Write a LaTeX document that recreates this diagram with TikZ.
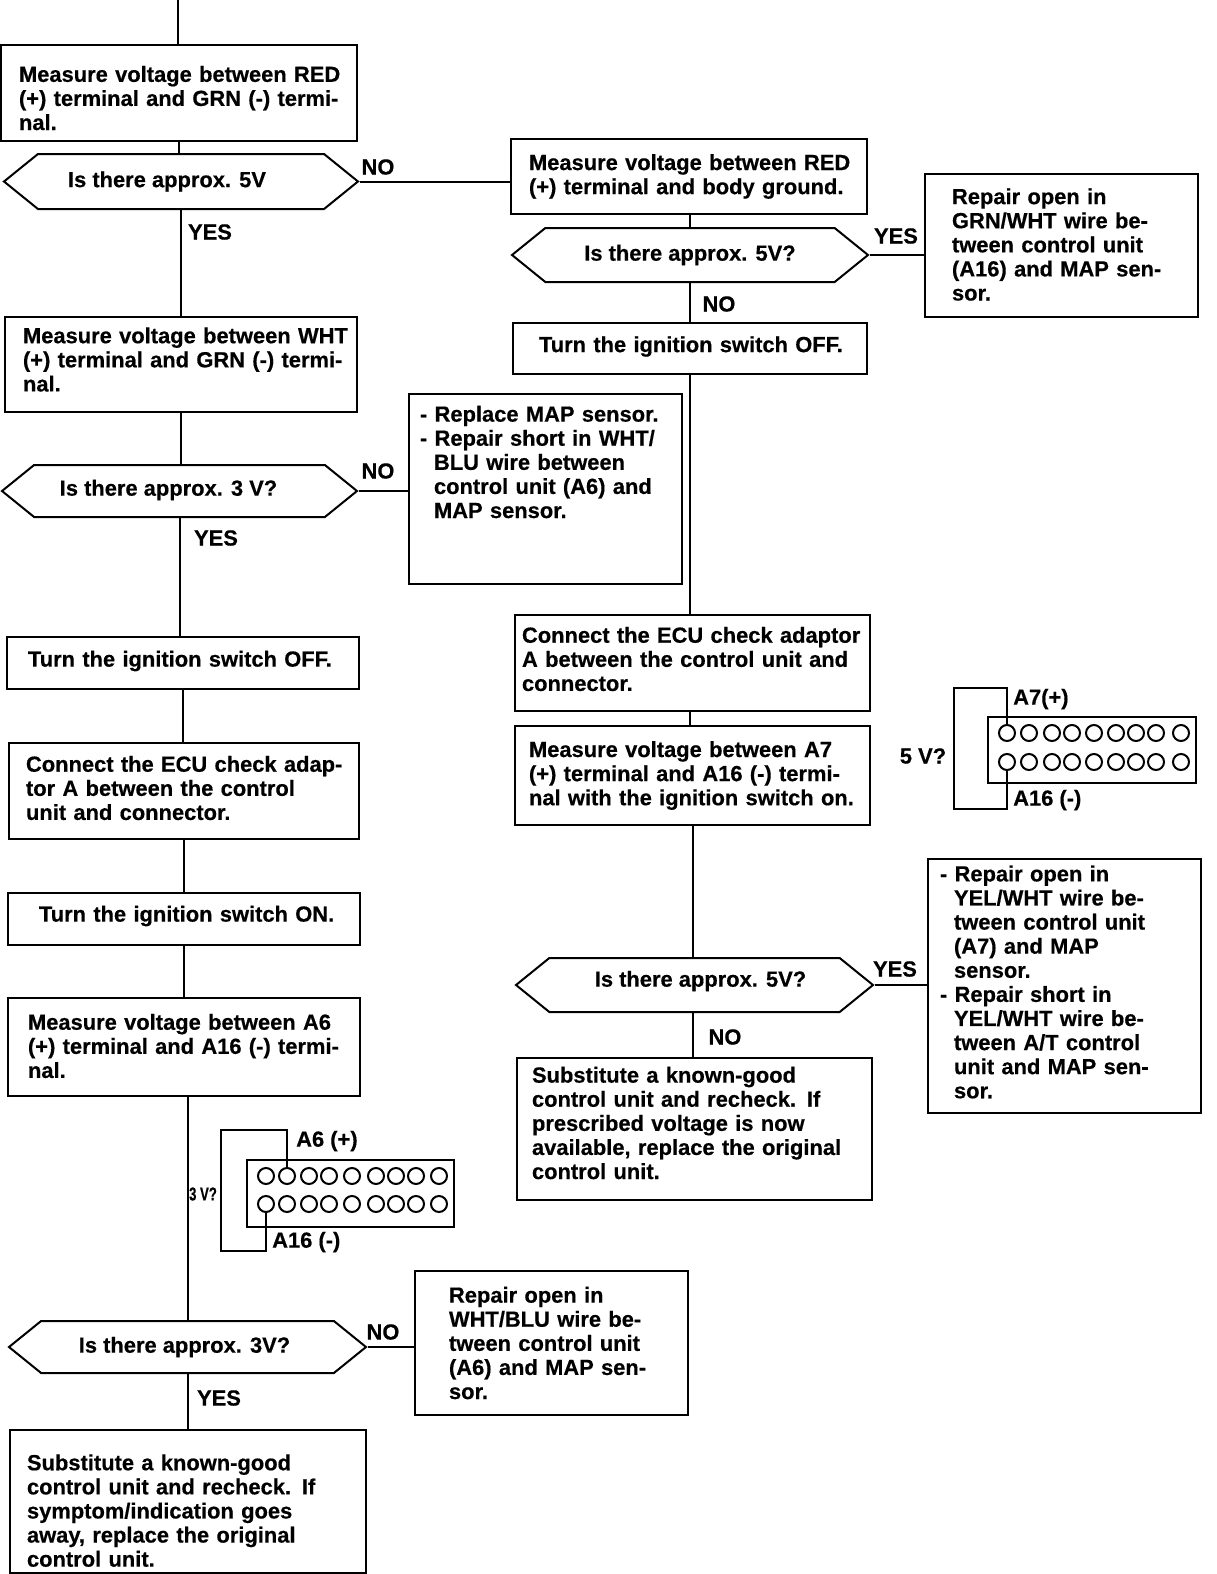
\documentclass[tikz,border=0pt]{standalone}
\usepackage{graphicx}
\usepackage{fontspec}
\setmainfont{Liberation Sans}[BoldFeatures={FakeBold=0.5}]
\usetikzlibrary{shapes.symbols}
\newcommand{\flowfont}{\fontsize{21.9}{24.1}\bfseries\selectfont}
\newcommand{\hang}{\hspace*{14pt}}
\tikzset{
    every node/.style={font=\flowfont},
    flowbox/.style n args={3}{draw, line width=2pt, anchor=north west, align=left,
        minimum width=#1pt, minimum height=#2pt, inner sep=0pt, text width=#1pt,
        execute at begin node={\leftskip=#3pt\relax}},
    textup/.style={execute at end node={\par\vskip#1pt\hrule height0pt\relax}},
    textdown/.style={execute at begin node={\vskip#1pt}},
    query/.style n args={2}{draw, line width=2pt, shape=signal, signal to=west and east,
        signal pointer angle=78, minimum width=#1pt, minimum height=#2pt, inner sep=0pt},
    flowline/.style={line width=2pt},
    wire/.style={line width=2pt},
    pinhole/.style={draw, circle, line width=2pt, minimum size=16pt, inner sep=0pt},
    tag/.style={inner sep=0pt}
}
\begin{document}
\begin{tikzpicture}[x=1pt, y=-1pt]
    \useasboundingbox (1,1) rectangle (1217,1575);

    \coordinate (start) at (179,1);

    % left column
    \node[flowbox={356}{96}{18}, textdown=2] (redgrn) at (1,45) {Measure voltage between RED\\(+) terminal and GRN (-) termi-\\nal.};
    \node[query={354}{55}] (ask5a) at (182,182.5) {Is there approx. 5V\hspace*{28pt}};
    \node[flowbox={352}{95}{18}, textup=10] (whtgrn) at (5,317) {Measure voltage between WHT\\(+) terminal and GRN (-) termi-\\nal.};
    \node[query={355}{52}] (ask3a) at (180.5,492) {\raisebox{1pt}[\height][\depth]{Is there approx. 3 V?}\hspace*{22pt}};
    \node[flowbox={352}{52}{21}, textup=4] (offa) at (7,637) {Turn the ignition switch OFF.};
    \node[flowbox={350}{96}{17}, textup=6] (adaptera) at (9,743) {Connect the ECU check adap-\\tor A between the control\\unit and connector.};
    \node[flowbox={352}{52}{31}, textup=6] (ona) at (8,893) {Turn the ignition switch ON.};
    \node[flowbox={352}{98}{20}, textup=2] (a6a16) at (8,998) {Measure voltage between A6\\(+) terminal and A16 (-) termi-\\nal.};
    \node[query={357}{52}] (ask3b) at (188.5,1348) {Is there approx. 3V?\hspace*{6pt}};
    \node[flowbox={356}{143}{17}, textdown=10] (subsa) at (10,1430) {Substitute a known-good\\control unit and recheck. If\\symptom/indication goes\\away, replace the original\\control unit.};

    % middle and right
    \node[flowbox={273}{190}{11}, textup=54] (replmap) at (409,394) {- Replace MAP sensor.\\- Repair short in WHT/\\\hang BLU wire between\\\hang control unit (A6) and\\\hang MAP sensor.};
    \node[flowbox={273}{144}{34}] (openwht) at (415,1271) {Repair open in\\WHT/BLU wire be-\\tween control unit\\(A6) and MAP sen-\\sor.};
    \node[flowbox={356}{75}{18}] (redbody) at (511,139) {Measure voltage between RED\\(+) terminal and body ground.};
    \node[query={356}{54}] (ask5b) at (691,256) {Is there approx. 5V?};
    \node[flowbox={273}{143}{27}, textup=2] (opengrn) at (925,174) {Repair open in\\GRN/WHT wire be-\\tween control unit\\(A16) and MAP sen-\\sor.};
    \node[flowbox={354}{51}{26}, textup=4] (offb) at (513,323) {Turn the ignition switch OFF.};
    \node[flowbox={355}{96}{7}, textup=8] (adapterb) at (515,615) {Connect the ECU check adaptor\\A between the control unit and\\connector.};
    \node[flowbox={355}{99}{14}] (a7a16) at (515,726) {Measure voltage between A7\\(+) terminal and A16 (-) termi-\\nal with the ignition switch on.};
    \node[query={357}{54}] (ask5c) at (695.5,986) {\hspace*{12pt}\raisebox{4pt}[\height][\depth]{Is there approx. 5V?}};
    \node[flowbox={273}{254}{12}, textup=8] (openyel) at (928,859) {- Repair open in\\\hang YEL/WHT wire be-\\\hang tween control unit\\\hang (A7) and MAP\\\hang sensor.\\- Repair short in\\\hang YEL/WHT wire be-\\\hang tween A/T control\\\hang unit and MAP sen-\\\hang sor.};
    \node[flowbox={355}{142}{15}, textup=12] (subsb) at (517,1058) {Substitute a known-good\\control unit and recheck. If\\prescribed voltage is now\\available, replace the original\\control unit.};

    % yes and no
    \node[tag] (no1) at (379,168) {NO};
    \node[tag] (yes1) at (211,233) {YES};
    \node[tag] (yes2) at (897,237) {YES};
    \node[tag] (no2) at (720,305) {NO};
    \node[tag] (no3) at (379,472) {NO};
    \node[tag] (yes3) at (217,539) {YES};
    \node[tag] (yes4) at (896,970) {YES};
    \node[tag] (no4) at (726,1038) {NO};
    \node[tag] (no5) at (384,1333) {NO};
    \node[tag] (yes5) at (220,1399) {YES};

    % connectors
    \draw[flowline] (start) -- (start |- redgrn.north);
    \draw[flowline] (redgrn.south) -- (redgrn.south |- ask5a.north);
    \draw[flowline] (whtgrn.north |- ask5a.south) -- (whtgrn.north);
    \draw[flowline] (whtgrn.south) -- (whtgrn.south |- ask3a.north);
    \draw[flowline] (ask3a.south) -- (ask3a.south |- offa.north);
    \draw[flowline] (offa.south) -- (offa.south |- adaptera.north);
    \draw[flowline] (adaptera.south) -- (adaptera.south |- ona.north);
    \draw[flowline] (ona.south) -- (ona.south |- a6a16.north);
    \draw[flowline] (ask3b.north |- a6a16.south) -- (ask3b.north);
    \draw[flowline] (ask3b.south) -- (ask3b.south |- subsa.north);
    \draw[flowline] (ask5a.east) -- (redbody.west |- ask5a.east);
    \draw[flowline] (ask3a.east) -- (replmap.west |- ask3a.east);
    \draw[flowline] (ask3b.east) -- (openwht.west |- ask3b.east);
    \draw[flowline] (ask5b.north |- redbody.south) -- (ask5b.north);
    \draw[flowline] (ask5b.south) -- (ask5b.south |- offb.north);
    \draw[flowline] (ask5b.east) -- (opengrn.west |- ask5b.east);
    \draw[flowline] (offb.south) -- (offb.south |- adapterb.north);
    \draw[flowline] (offb.south |- adapterb.south) -- (offb.south |- a7a16.north);
    \draw[flowline] (a7a16.south) -- (a7a16.south |- ask5c.north);
    \draw[flowline] (a7a16.south |- ask5c.south) -- (a7a16.south |- subsb.north);
    \draw[flowline] (ask5c.east) -- (openyel.west |- ask5c.east);

    % connector at right
    \node[draw, line width=2pt, minimum width=208pt, minimum height=66pt, anchor=north west] (plugr) at (988,717) {};
    \foreach \xpin [count=\i] in {1008,1030,1053,1073,1095,1117,1137,1157,1182} {
        \node[pinhole] (ra\i) at (\xpin,734) {};
        \node[pinhole] (rb\i) at (\xpin,763) {};
    }
    \coordinate (rtop) at (955,689);
    \coordinate (rbot) at (955,810);
    \draw[wire] (ra1.north) |- (rtop) -- (rbot) -| (rb1.south);
    \node[tag, anchor=west] (a7tag) at (1014,700) {A7(+)};
    \node[tag, anchor=west] (a16tagr) at (1014,801) {A16 (-)};
    \node[tag] (volt5) at (924,757) {5 V?};

    % connector at left
    \node[draw, line width=2pt, minimum width=207pt, minimum height=67pt, anchor=north west] (plugl) at (247,1160) {};
    \foreach \xpin [count=\i] in {267,288,310,330,353,377,397,417,440} {
        \node[pinhole] (la\i) at (\xpin,1177) {};
        \node[pinhole] (lb\i) at (\xpin,1205) {};
    }
    \coordinate (ltop) at (222,1131);
    \coordinate (lbot) at (222,1252);
    \draw[wire] (la2.north) |- (ltop) -- (lbot) -| (lb1.south);
    \node[tag, anchor=west] (a6tag) at (297,1142) {A6 (+)};
    \node[tag, anchor=west] (a16tagl) at (273,1243) {A16 (-)};
    \node[tag] (volt3) at (204,1195) {\scalebox{.6}[.85]{3 V?}};
\end{tikzpicture}
\end{document}
